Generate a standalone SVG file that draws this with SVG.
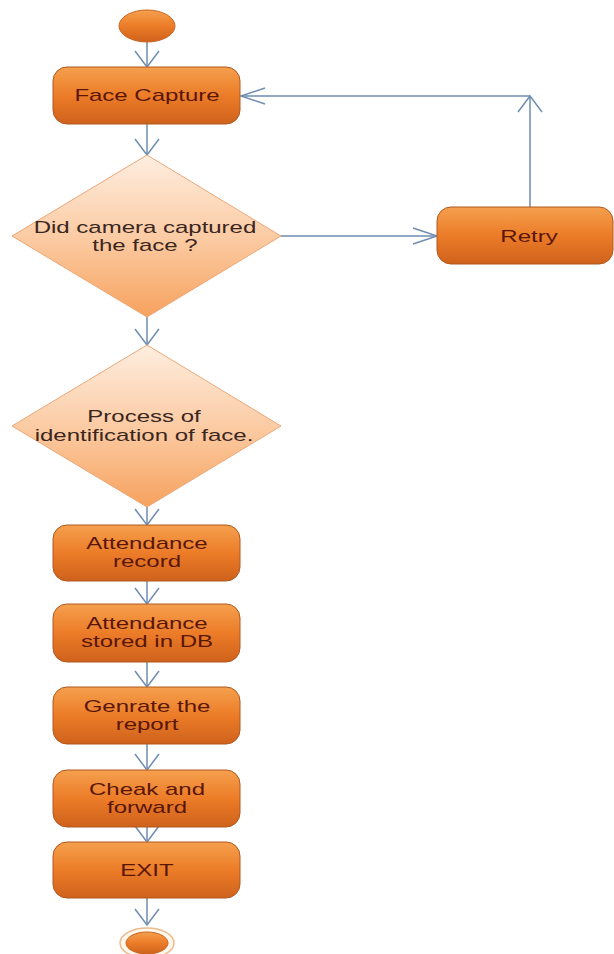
<svg xmlns="http://www.w3.org/2000/svg" width="614" height="954" viewBox="0 0 614 954">
<style>
.box{fill:url(#gBox);stroke:#B0581E;stroke-width:1}
.dia{fill:url(#gDia);stroke:#EBA778;stroke-width:1}
.t{font-family:"Liberation Sans",Arial,sans-serif;font-size:16px;text-anchor:middle}
.tb{fill:#5A1608}
.td{fill:#3A2620}
.c{fill:none;stroke:#6E8DB0;stroke-width:1.5}
</style>
<defs>
<linearGradient id="gBox" x1="0" y1="0" x2="0" y2="1">
<stop offset="0" stop-color="#F5A04E"/>
<stop offset="0.5" stop-color="#EC7C28"/>
<stop offset="1" stop-color="#CF621C"/>
</linearGradient>
<linearGradient id="gDia" x1="0" y1="0" x2="0" y2="1">
<stop offset="0" stop-color="#FEEEE0"/>
<stop offset="0.55" stop-color="#FBC89E"/>
<stop offset="1" stop-color="#F6A25E"/>
</linearGradient>
<marker id="av" markerUnits="userSpaceOnUse" markerWidth="20" markerHeight="30" refX="16" refY="12" orient="auto" overflow="visible">
<path d="M0,0 L16,12 L0,24" fill="none" stroke="#6E8DB0" stroke-width="1.5"/>
</marker>
<marker id="ah" markerUnits="userSpaceOnUse" markerWidth="30" markerHeight="20" refX="24" refY="8" orient="auto" overflow="visible">
<path d="M0,0 L24,8 L0,16" fill="none" stroke="#6E8DB0" stroke-width="1.5"/>
</marker>
</defs>
<rect width="614" height="954" fill="#FFFFFF"/>

<g id="connectors">
<line class="c" x1="147" y1="42" x2="147" y2="67" marker-end="url(#av)"/>
<line class="c" x1="147" y1="124" x2="147" y2="155" marker-end="url(#av)"/>
<line class="c" x1="147" y1="317" x2="147" y2="345" marker-end="url(#av)"/>
<line class="c" x1="147" y1="507" x2="147" y2="525" marker-end="url(#av)"/>
<line class="c" x1="147" y1="581" x2="147" y2="604" marker-end="url(#av)"/>
<line class="c" x1="147" y1="662" x2="147" y2="687" marker-end="url(#av)"/>
<line class="c" x1="147" y1="744" x2="147" y2="770" marker-end="url(#av)"/>
<line class="c" x1="147" y1="827" x2="147" y2="842" marker-end="url(#av)"/>
<line class="c" x1="147" y1="898" x2="147" y2="925" marker-end="url(#av)"/>
<line class="c" x1="281" y1="236" x2="437" y2="236" marker-end="url(#ah)"/>
<line class="c" x1="530" y1="207" x2="530" y2="96" marker-end="url(#av)"/>
<line class="c" x1="530" y1="96" x2="241" y2="96" marker-end="url(#ah)"/>
</g>

<g id="start">
<ellipse cx="147" cy="26" rx="28" ry="16" fill="url(#gBox)" stroke="#C8651E" stroke-width="1"/>
</g>

<g id="faceCapture">
<rect class="box" x="53" y="67" width="187" height="57" rx="14"/>
<text class="t tb" transform="translate(147 101) scale(1.5 1)">Face Capture</text>
</g>

<g id="decision1">
<polygon class="dia" points="147,155 281,236 147,317 12,236"/>
<text class="t td" transform="translate(145 233) scale(1.5 1)"><tspan x="0" y="0">Did camera captured</tspan><tspan x="0" y="18">the face ?</tspan></text>
</g>

<g id="retry">
<rect class="box" x="437" y="207" width="176" height="57" rx="14"/>
<text class="t tb" transform="translate(529 242) scale(1.5 1)">Retry</text>
</g>

<g id="decision2">
<polygon class="dia" points="147,345 281,426 147,507 12,426"/>
<text class="t td" transform="translate(144 422) scale(1.5 1)"><tspan x="0" y="0">Process of</tspan><tspan x="0" y="19">identification of face.</tspan></text>
</g>

<g id="attendanceRecord">
<rect class="box" x="53" y="525" width="187" height="56" rx="14"/>
<text class="t tb" transform="translate(147 549) scale(1.5 1)"><tspan x="0" y="0">Attendance</tspan><tspan x="0" y="18">record</tspan></text>
</g>

<g id="attendanceStored">
<rect class="box" x="53" y="604" width="187" height="58" rx="14"/>
<text class="t tb" transform="translate(147 629) scale(1.5 1)"><tspan x="0" y="0">Attendance</tspan><tspan x="0" y="18">stored in DB</tspan></text>
</g>

<g id="generateReport">
<rect class="box" x="53" y="687" width="187" height="57" rx="14"/>
<text class="t tb" transform="translate(147 712) scale(1.5 1)"><tspan x="0" y="0">Genrate the</tspan><tspan x="0" y="18">report</tspan></text>
</g>

<g id="checkForward">
<rect class="box" x="53" y="770" width="187" height="57" rx="14"/>
<text class="t tb" transform="translate(147 795) scale(1.5 1)"><tspan x="0" y="0">Cheak and</tspan><tspan x="0" y="18">forward</tspan></text>
</g>

<g id="exit">
<rect class="box" x="53" y="842" width="187" height="56" rx="14"/>
<text class="t tb" transform="translate(147 876) scale(1.5 1)">EXIT</text>
</g>

<g id="end">
<ellipse cx="147" cy="943" rx="27" ry="15" fill="#FFF7EC" stroke="#EBBB8E" stroke-width="1.5"/>
<ellipse cx="147" cy="943" rx="21" ry="11" fill="url(#gBox)" stroke="#C8651E" stroke-width="1"/>
</g>
</svg>
